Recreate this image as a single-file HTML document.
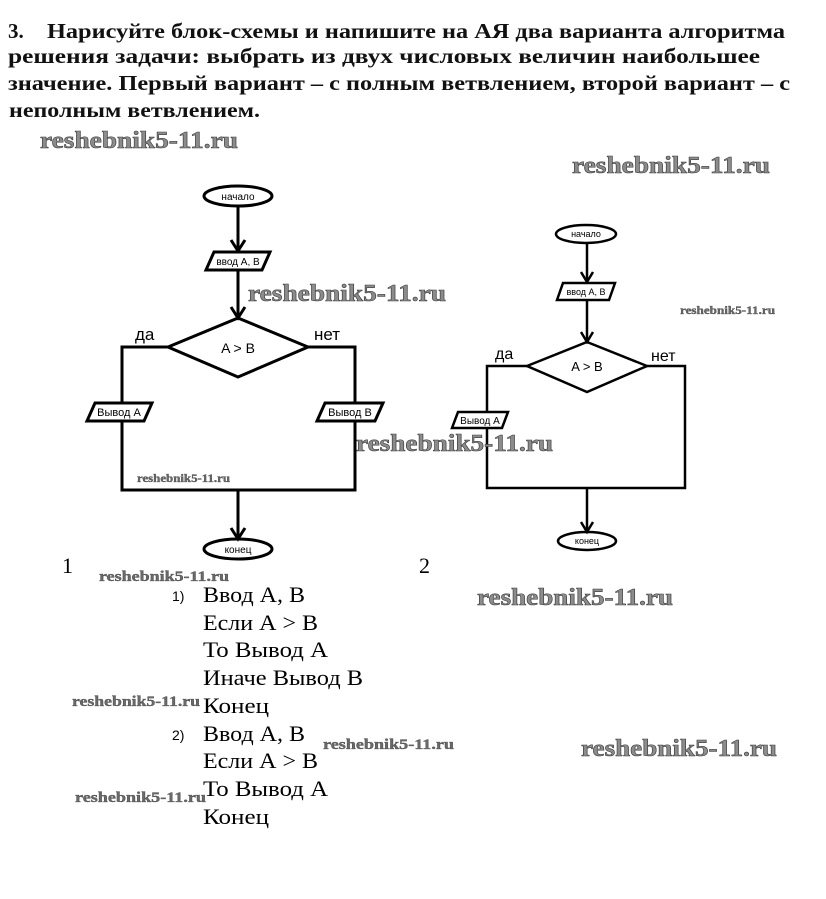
<!DOCTYPE html>
<html><head><meta charset="utf-8">
<style>
html,body{margin:0;padding:0;background:#fff;}
svg{display:block;}
.t{font-family:"Liberation Serif","Noto Serif CJK SC",serif;font-weight:bold;font-size:21px;fill:#111;}
.wm{font-family:"Liberation Serif",serif;font-weight:bold;fill:#8c8c8c;stroke:#3a3a3a;stroke-width:0.6;}
.ws{font-family:"Liberation Serif",serif;font-weight:bold;fill:#6a6a6a;stroke:#333;stroke-width:0.3;}
.s{font-family:"Liberation Sans","DejaVu Sans",sans-serif;fill:#000;}
.a{font-family:"Liberation Serif",serif;font-size:22px;fill:#000;}
.ln{fill:none;stroke:#000;stroke-linejoin:miter;}
</style></head>
<body>
<svg width="826" height="899" viewBox="0 0 826 899" xmlns="http://www.w3.org/2000/svg">
<rect width="826" height="899" fill="#fff"/>
<!-- Title -->
<text class="t" x="8" y="38">3.</text>
<text class="t" x="47" y="38" textLength="738" lengthAdjust="spacingAndGlyphs">Нарисуйте блок-схемы и напишите на АЯ два варианта алгоритма</text>
<text class="t" x="8" y="63" textLength="752" lengthAdjust="spacingAndGlyphs">решения задачи: выбрать из двух числовых величин наибольшее</text>
<text class="t" x="8" y="90" textLength="782" lengthAdjust="spacingAndGlyphs">значение. Первый вариант – с полным ветвлением, второй вариант – с</text>
<text class="t" x="9" y="117" textLength="251" lengthAdjust="spacingAndGlyphs">неполным ветвлением.</text>

<!-- Flowchart 1 -->
<g class="ln" stroke-width="3">
  <ellipse cx="238" cy="196" rx="34" ry="10"/>
  <line x1="238" y1="206" x2="238" y2="251"/>
  <polyline points="231,240 238,251 245,240"/>
  <polygon points="214,252 270,252 262,270 206,270"/>
  <line x1="238" y1="270" x2="238" y2="318"/>
  <polyline points="231,307 238,318 245,307"/>
  <polygon points="238,318 308,347 238,377 168,347"/>
  <polyline points="168,347 122,347 122,403"/>
  <polygon points="95,403 152,403 144,421 87,421"/>
  <polyline points="122,421 122,490 355,490 355,421"/>
  <polyline points="308,347 355,347 355,403"/>
  <polygon points="325,403 383,403 375,421 317,421"/>
  <line x1="238" y1="490" x2="238" y2="539"/>
  <polyline points="231,528 238,539 245,528"/>
  <ellipse cx="238" cy="549" rx="34" ry="10"/>
</g>
<text class="s" x="238" y="200" font-size="10" text-anchor="middle">начало</text>
<text class="s" x="238" y="265" font-size="10" text-anchor="middle">ввод А, В</text>
<text class="s" x="238" y="353" font-size="14" text-anchor="middle">A &gt; B</text>
<text class="s" x="135" y="340" font-size="17">да</text>
<text class="s" x="314" y="340" font-size="17">нет</text>
<text class="s" x="119" y="416" font-size="11" text-anchor="middle">Вывод А</text>
<text class="s" x="350" y="416" font-size="11" text-anchor="middle">Вывод В</text>
<text class="s" x="238" y="553" font-size="10" text-anchor="middle">конец</text>

<!-- Flowchart 2 -->
<g class="ln" stroke-width="2.5">
  <ellipse cx="586" cy="234" rx="30" ry="9"/>
  <line x1="587" y1="243" x2="587" y2="282"/>
  <polyline points="581,272 587,282 593,272"/>
  <polygon points="563,283 615,283 609,300 557,300"/>
  <line x1="587" y1="300" x2="587" y2="342"/>
  <polyline points="581,332 587,342 593,332"/>
  <polygon points="587,342 647,366 587,392 527,366"/>
  <polyline points="527,366 487,366 487,412"/>
  <polygon points="458,412 508,412 502,428 452,428"/>
  <polyline points="487,428 487,488 685,488 685,366 647,366"/>
  <line x1="587" y1="488" x2="587" y2="532"/>
  <polyline points="581,522 587,532 593,522"/>
  <ellipse cx="587" cy="541" rx="29" ry="9"/>
</g>
<text class="s" x="586" y="237" font-size="9" text-anchor="middle">начало</text>
<text class="s" x="586" y="295" font-size="9" text-anchor="middle">ввод А, В</text>
<text class="s" x="587" y="371" font-size="13" text-anchor="middle">A &gt; B</text>
<text class="s" x="495" y="359" font-size="16">да</text>
<text class="s" x="651" y="361" font-size="16">нет</text>
<text class="s" x="480" y="424" font-size="10" text-anchor="middle">Вывод А</text>
<text class="s" x="587" y="544" font-size="9" text-anchor="middle">конец</text>

<!-- numbers -->
<text class="a" x="62" y="573" font-size="21">1</text>
<text class="a" x="419" y="573" font-size="21">2</text>

<!-- answers -->
<text class="s" x="172" y="601" font-size="14">1)</text>
<text class="a" x="203" y="602" textLength="102" lengthAdjust="spacingAndGlyphs">Ввод А, В</text>
<text class="a" x="203" y="630" textLength="115" lengthAdjust="spacingAndGlyphs">Если А &gt; В</text>
<text class="a" x="203" y="657" textLength="125" lengthAdjust="spacingAndGlyphs">То Вывод А</text>
<text class="a" x="203" y="685" textLength="160" lengthAdjust="spacingAndGlyphs">Иначе Вывод В</text>
<text class="a" x="203" y="713" textLength="66" lengthAdjust="spacingAndGlyphs">Конец</text>
<text class="s" x="172" y="740" font-size="14">2)</text>
<text class="a" x="203" y="741" textLength="102" lengthAdjust="spacingAndGlyphs">Ввод А, В</text>
<text class="a" x="203" y="768" textLength="115" lengthAdjust="spacingAndGlyphs">Если А &gt; В</text>
<text class="a" x="203" y="796" textLength="125" lengthAdjust="spacingAndGlyphs">То Вывод А</text>
<text class="a" x="203" y="824" textLength="66" lengthAdjust="spacingAndGlyphs">Конец</text>

<!-- watermarks large -->
<text class="wm" x="40" y="148" font-size="24" textLength="198" lengthAdjust="spacingAndGlyphs">reshebnik5-11.ru</text>
<text class="wm" x="572" y="173" font-size="24" textLength="198" lengthAdjust="spacingAndGlyphs">reshebnik5-11.ru</text>
<text class="wm" x="248" y="301" font-size="24" textLength="198" lengthAdjust="spacingAndGlyphs">reshebnik5-11.ru</text>
<text class="wm" x="356" y="451" font-size="24" textLength="197" lengthAdjust="spacingAndGlyphs">reshebnik5-11.ru</text>
<text class="wm" x="477" y="605" font-size="24" textLength="196" lengthAdjust="spacingAndGlyphs">reshebnik5-11.ru</text>
<text class="wm" x="581" y="756" font-size="24" textLength="196" lengthAdjust="spacingAndGlyphs">reshebnik5-11.ru</text>
<!-- watermarks small -->
<text class="ws" x="137" y="482" font-size="12" textLength="93" lengthAdjust="spacingAndGlyphs">reshebnik5-11.ru</text>
<text class="ws" x="680" y="314" font-size="12" textLength="95" lengthAdjust="spacingAndGlyphs">reshebnik5-11.ru</text>
<text class="ws" x="99" y="581" font-size="15" textLength="130" lengthAdjust="spacingAndGlyphs">reshebnik5-11.ru</text>
<text class="ws" x="72" y="706" font-size="15" textLength="128" lengthAdjust="spacingAndGlyphs">reshebnik5-11.ru</text>
<text class="ws" x="323" y="749" font-size="15" textLength="131" lengthAdjust="spacingAndGlyphs">reshebnik5-11.ru</text>
<text class="ws" x="75" y="802" font-size="15" textLength="131" lengthAdjust="spacingAndGlyphs">reshebnik5-11.ru</text>
</svg>
</body></html>
